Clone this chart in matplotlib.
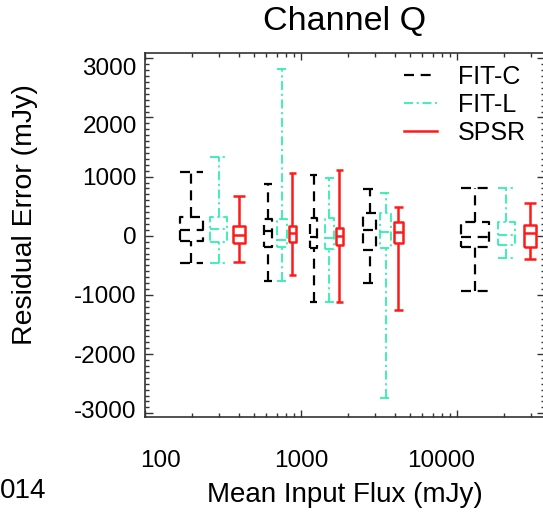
import numpy as np
import matplotlib
matplotlib.use("Agg")
import matplotlib.pyplot as plt
from matplotlib.ticker import FixedLocator, NullFormatter, MultipleLocator
from matplotlib.transforms import ScaledTranslation

plt.rcParams['font.family'] = ['Liberation Sans', 'DejaVu Sans']

# ---- data ----
series_names = ["FIT-C", "FIT-L", "SPSR"]

flux_c = [198, 617, 1205, 2755, 13100]
flux_l = [298, 755, 1518, 3508, 20700]
flux_s = [401, 880, 1763, 4227, 29500]

fitc_hi = [1078, 870, 1027, 796, 813]
fitc_q3 = [323, 279, 296, 380, 239]
fitc_med = [93, 81, -25, 98, -25]
fitc_q1 = [-83, -184, -201, -240, -184]
fitc_lo = [-465, -759, -1119, -803, -933]

fitl_hi = [1330, 2814, 972, 728, 803]
fitl_q3 = [323, 279, 306, 391, 239]
fitl_med = [115, -65, -42, 70, 14]
fitl_q1 = [-100, -184, -218, -211, -155]
fitl_lo = [-455, -759, -1119, -2746, -370]

spsr_hi = [673, 1056, 1112, 492, 549]
spsr_q3 = [166, 166, 127, 228, 183]
spsr_med = [14, 53, 2, 70, 53]
spsr_q1 = [-127, -110, -155, -116, -184]
spsr_lo = [-448, -668, -1124, -1254, -397]

xtick_vals = [100, 1000, 10000]
xtick_labels = ["100", "1000", "10000"]
ytick_vals = [-3000, -2000, -1000, 0, 1000, 2000, 3000]
ytick_labels = ["-3000", "-2000", "-1000", "0", "1000", "2000", "3000"]

# ---- styles ----
box_w_c = [0.147, 0.05, 0.04, 0.083, 0.18]   # widths in decades
box_w_l = [0.109, 0.064, 0.058, 0.07, 0.109]
box_w_s = [0.083, 0.045, 0.045, 0.058, 0.077]

GREEN = '#2EF0B0'
styles = [
    dict(color='black', ls=(0, (4.5, 3.0)), lw=1.6),
    dict(color=GREEN, ls=(0, (5, 2, 1.2, 2)), lw=1.3),
    dict(color='#FF1A1A', ls='-', lw=1.8),
]

# label offsets in pixels (the reference's labels sit slightly off their ticks)
xlab_dx = [15, 0, -16]
ylab_dy = [4, 0, 0, 0, 0, -7, -8]

W, H = 543, 514
fig = plt.figure(figsize=(W / 100, H / 100), dpi=100)
ax = fig.add_axes([145 / W, 1 - 417 / H, 400 / W, (417 - 52.7) / H])
ax.set_xscale('log')
ax.set_xlim(100, 36800)
ax.set_ylim(-3063, 3095)


def draw_boxes(pos, lo, q1, med, q3, hi, widths, st):
    for x, a, b, m, c, d, w in zip(pos, lo, q1, med, q3, hi, widths):
        xl = x * 10 ** (-w / 2)
        xr = x * 10 ** (w / 2)
        kw = dict(color=st['color'], ls=st['ls'], lw=st['lw'],
                  solid_capstyle='butt', dash_capstyle='butt')
        ax.plot([xl, xr, xr, xl, xl], [b, b, c, c, b], **kw)
        ax.plot([xl, xr], [m, m], **kw)
        ax.plot([x, x], [c, d], **kw)
        ax.plot([x, x], [a, b], **kw)
        ax.plot([xl, xr], [d, d], **kw)
        ax.plot([xl, xr], [a, a], **kw)


draw_boxes(flux_c, fitc_lo, fitc_q1, fitc_med, fitc_q3, fitc_hi, box_w_c, styles[0])
draw_boxes(flux_l, fitl_lo, fitl_q1, fitl_med, fitl_q3, fitl_hi, box_w_l, styles[1])
draw_boxes(flux_s, spsr_lo, spsr_q1, spsr_med, spsr_q3, spsr_hi, box_w_s, styles[2])

# legend
handles = [plt.Line2D([], [], color=s['color'], ls=s['ls'], lw=s['lw']) for s in styles]
leg = fig.legend(handles, series_names, loc='upper left', frameon=False,
                 fontsize=18, handlelength=1.3, handletextpad=0.85,
                 labelspacing=0.16, borderpad=0, borderaxespad=0,
                 bbox_to_anchor=(404 / W, 1 - 65 / H))

# ticks
ax.xaxis.set_major_locator(FixedLocator(xtick_vals))
ax.set_xticklabels(xtick_labels)
minors = [m * 10 ** e for e in range(2, 5) for m in range(2, 10)]
ax.xaxis.set_minor_locator(FixedLocator(minors))
ax.xaxis.set_minor_formatter(NullFormatter())
ax.yaxis.set_major_locator(FixedLocator(ytick_vals))
ax.set_yticklabels(ytick_labels)
ax.yaxis.set_minor_locator(MultipleLocator(100))

ax.tick_params(which='both', direction='in', top=True, right=True, width=1.0,
               labelsize=17.5, color='#333333')
ax.tick_params(axis='y', which='major', length=6, pad=6)
ax.tick_params(axis='y', which='minor', length=3)
ax.tick_params(axis='x', which='major', length=5, pad=24)
ax.tick_params(axis='x', which='minor', length=3)
for sp in ax.spines.values():
    sp.set_linewidth(1.2)
    sp.set_color('#333333')

for lab, dx in zip(ax.get_xticklabels(), xlab_dx):
    lab.set_transform(lab.get_transform() + ScaledTranslation(dx / 100, 0, fig.dpi_scale_trans))
for lab, dy in zip(ax.get_yticklabels(), ylab_dy):
    lab.set_transform(lab.get_transform() + ScaledTranslation(0, dy / 100, fig.dpi_scale_trans))

ax.set_xlabel('Mean Input Flux (mJy)', fontsize=20, va='center')
ax.xaxis.set_label_coords(0.5, (417 - 495) / (417 - 52.7))
ax.set_ylabel('Residual Error (mJy)', fontsize=20.5, va='center')
ax.yaxis.set_label_coords((25 - 145) / 400, (417 - 215) / (417 - 52.7))
ax.text(0.5, (417 - 22) / (417 - 52.7), 'Channel Q', fontsize=24.5,
        ha='center', va='center', transform=ax.transAxes)

fig.text(0, 1 - 491 / H, '014', fontsize=20, ha='left', va='center')

fig.savefig('out.png', dpi=100)
